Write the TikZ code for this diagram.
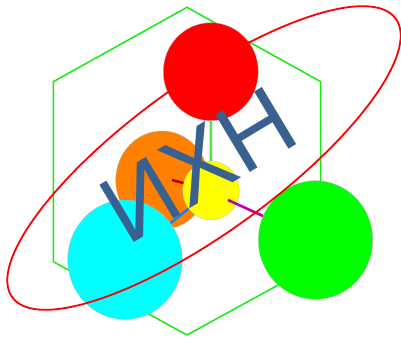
\documentclass[tikz,border=0pt]{standalone}
\usepackage{fontspec}
\setmainfont{Liberation Sans}
\usetikzlibrary{shapes.geometric}
\definecolor{hexcol}{RGB}{20,235,20}
\definecolor{cred}{RGB}{255,0,0}
\definecolor{corange}{RGB}{255,128,0}
\definecolor{cyellow}{RGB}{255,255,0}
\definecolor{ccyan}{RGB}{0,255,255}
\definecolor{cgreen}{RGB}{0,255,0}
\definecolor{lgreen}{RGB}{85,225,75}
\definecolor{cblue}{RGB}{25,130,235}
\definecolor{dred}{RGB}{190,0,0}
\definecolor{cmag}{RGB}{190,0,170}
\definecolor{steel}{RGB}{56,96,144}
\begin{document}
\begin{tikzpicture}[x=1pt,y=1pt,
  ball/.style={ellipse, inner sep=0pt, draw=gray!55, line width=0.3pt},
  bond/.style={line width=2.6pt},
]
\useasboundingbox (0,0) rectangle (401,-337);
\draw[hexcol, line width=1.5pt] (187,-7.3) -- (320.7,-81.7) -- (320.7,-261.7) -- (187,-335) -- (53.3,-261.7) -- (53.3,-81.7) -- cycle;
\node[ball, fill=corange, minimum width=92.6pt, minimum height=98.4pt] (orangeb) at (162,-180.2) {};
\node[ball, fill=cred, minimum width=95pt, minimum height=98pt] (redb) at (210.8,-71.7) {};
\node[ball, fill=ccyan, minimum width=114.6pt, minimum height=119.4pt] (cyanb) at (125,-259.7) {};
\node[ball, fill=cyellow, minimum width=56.6pt, minimum height=59pt] (yellowb) at (211,-190.5) {};
\node[ball, fill=cgreen, minimum width=114.4pt, minimum height=118.6pt] (greenb) at (315.5,-240) {};
\coordinate (dr) at (172,-180);
\coordinate (mg) at (228,-200);
\draw[bond, lgreen] (redb) -- (yellowb);
\draw[bond, cblue] (cyanb) -- (yellowb);
\draw[bond, dred] (dr) -- (yellowb);
\draw[bond, cmag] (mg) -- (greenb);
\draw[cred, line width=1.8pt, rotate around={36:(204,-158)}] (204,-158) ellipse (237 and 74.5);
\node[text=steel, font=\fontsize{97}{97}\selectfont, inner sep=0pt, rotate=31, xscale=-1] (label) at (198.2,-164.9) {HXN};
\end{tikzpicture}
\end{document}
